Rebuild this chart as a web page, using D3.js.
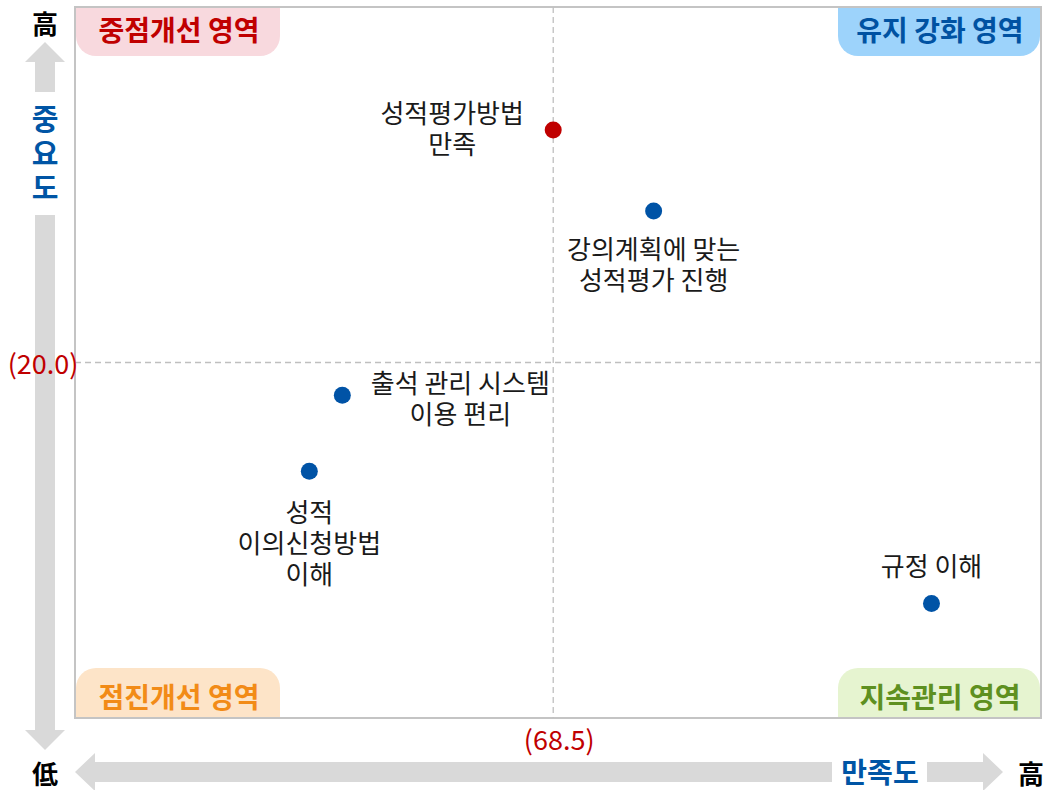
<!DOCTYPE html>
<html><head><meta charset="utf-8">
<script src="https://cdn.jsdelivr.net/npm/d3@7"></script>
<style>body{margin:0;background:#fff}svg{display:block}text{font-family:"Noto Sans CJK KR","Noto Sans",sans-serif}</style>
</head><body><svg id="c" width="1043" height="790"></svg>
<script>
const categories = ["성적평가방법\n만족", "강의계획에 맞는\n성적평가 진행", "출석 관리 시스템\n이용 편리", "성적\n이의신청방법\n이해", "규정 이해"];
const satisfaction = [68.5, 70.6, 64.09, 63.4, 76.41];
const importance = [23.27, 22.13, 19.54, 18.47, 16.61];
const highlight = [true, false, false, false, false];
const xMid = 68.5, yMid = 20.0;
const quadrantLabels = ["중점개선 영역", "유지 강화 영역", "점진개선 영역", "지속관리 영역"];

const svg = d3.select("#c");
const L = 75, R = 1041, T = 7, B = 718;
const x = d3.scaleLinear().domain([58.5, 78.7]).range([L, R]);
const y = d3.scaleLinear().domain([15, 25]).range([B, T]);

// arrows (drawn first, text on top)
const g = "#d9d9d9";
svg.append("path").attr("d", "M45,42 L65,62 L55,62 L55,92 L35,92 L35,62 L25,62 Z").attr("fill", g);
svg.append("path").attr("d", "M35,215 L55,215 L55,730 L65,730 L45,750 L25,730 L35,730 Z").attr("fill", g);
svg.append("path").attr("d", "M75,772 L95,753 L95,762 L832,762 L832,782 L95,782 L95,791 Z").attr("fill", g);
svg.append("path").attr("d", "M927,762 L983,762 L983,753 L1003,772 L983,791 L983,782 L927,782 Z").attr("fill", g);

// frame
svg.append("rect").attr("x", L).attr("y", T).attr("width", R - L).attr("height", B - T)
  .attr("fill", "#fff").attr("stroke", "#c4c4c4").attr("stroke-width", 2);

// quadrant boxes
function box(x0, y0, x1, y1, roundBottom, fill) {
  const r = 20, p = d3.path();
  if (roundBottom) {
    p.moveTo(x0, y0); p.lineTo(x1, y0); p.lineTo(x1, y1 - r);
    p.arcTo(x1, y1, x1 - r, y1, r); p.lineTo(x0 + r, y1); p.arcTo(x0, y1, x0, y1 - r, r); p.closePath();
  } else {
    p.moveTo(x0, y1); p.lineTo(x0, y0 + r); p.arcTo(x0, y0, x0 + r, y0, r);
    p.lineTo(x1 - r, y0); p.arcTo(x1, y0, x1, y0 + r, r); p.lineTo(x1, y1); p.closePath();
  }
  svg.append("path").attr("d", p.toString()).attr("fill", fill);
}
const qb = [
  {x0: L + 1, x1: 280, top: true, fill: "#f8d9de", col: "#c00000"},
  {x0: 838, x1: R - 1, top: true, fill: "#9dd3fb", col: "#0052a2"},
  {x0: L + 1, x1: 280, top: false, fill: "#fde4c8", col: "#f28b17"},
  {x0: 838, x1: R - 1, top: false, fill: "#e6f4d0", col: "#5e9020"}
];
qb.forEach((q, i) => {
  const y0 = q.top ? T + 1 : 668, y1 = q.top ? 56 : B - 1;
  box(q.x0, y0, q.x1, y1, q.top, q.fill);
  svg.append("text").attr("x", (q.x0 + q.x1) / 2 + 1).attr("y", (y0 + y1) / 2 + (q.top ? -3 : 3))
    .attr("text-anchor", "middle").attr("dominant-baseline", "central")
    .attr("font-size", 28).attr("font-weight", "bold").attr("fill", q.col).text(quadrantLabels[i]);
});

// crosshair
svg.append("line").attr("x1", x(xMid)).attr("x2", x(xMid)).attr("y1", T).attr("y2", B)
  .attr("stroke", "#bfbfbf").attr("stroke-width", 1.3).attr("stroke-dasharray", "6,4");
svg.append("line").attr("x1", L).attr("x2", R).attr("y1", y(yMid)).attr("y2", y(yMid))
  .attr("stroke", "#bfbfbf").attr("stroke-width", 1.3).attr("stroke-dasharray", "6,4");

svg.append("text").attr("x", 43).attr("y", y(yMid)).attr("text-anchor", "middle").attr("dominant-baseline", "central")
  .attr("font-size", 27).attr("fill", "#c00000").text("(" + yMid.toFixed(1) + ")");
svg.append("text").attr("x", x(xMid) + 6).attr("y", 738).attr("text-anchor", "middle").attr("dominant-baseline", "central")
  .attr("font-size", 27).attr("fill", "#c00000").text("(" + xMid.toFixed(1) + ")");

// label layout (offset of first line center from point)
const labelLayout = [[-101, -19], [0, 36], [118, -14], [0, 39], [0, -40]];
const lh = 31;

categories.forEach((c, i) => {
  const px = x(satisfaction[i]), py = y(importance[i]);
  svg.append("circle").attr("cx", px).attr("cy", py).attr("r", 8.5)
    .attr("fill", highlight[i] ? "#c00000" : "#0053a6");
  const lines = c.split("\n");
  const t = svg.append("text").attr("text-anchor", "middle").attr("font-size", 26).attr("fill", "#1a1a1a")
    .attr("dominant-baseline", "central");
  lines.forEach((ln, j) => t.append("tspan").attr("x", px + labelLayout[i][0]).attr("y", py + labelLayout[i][1] + j * lh).text(ln));
});

// axis words
svg.append("text").attr("x", 45).attr("y", 22).attr("text-anchor", "middle").attr("dominant-baseline", "central")
  .attr("font-size", 26).attr("font-weight", "bold").attr("fill", "#000").text("高");
const vt = svg.append("text").attr("text-anchor", "middle").attr("dominant-baseline", "central")
  .attr("font-size", 29).attr("font-weight", "bold").attr("fill", "#0055a5");
["중", "요", "도"].forEach((ch, i) => vt.append("tspan").attr("x", 45).attr("y", 117 + i * 34.5).text(ch));
svg.append("text").attr("x", 45).attr("y", 772).attr("text-anchor", "middle").attr("dominant-baseline", "central")
  .attr("font-size", 26).attr("font-weight", "bold").attr("fill", "#000").text("低");
svg.append("text").attr("x", 880).attr("y", 771).attr("text-anchor", "middle").attr("dominant-baseline", "central")
  .attr("font-size", 28).attr("font-weight", "bold").attr("fill", "#0055a5").text("만족도");
svg.append("text").attr("x", 1031).attr("y", 772).attr("text-anchor", "middle").attr("dominant-baseline", "central")
  .attr("font-size", 26).attr("font-weight", "bold").attr("fill", "#000").text("高");
</script></body></html>
